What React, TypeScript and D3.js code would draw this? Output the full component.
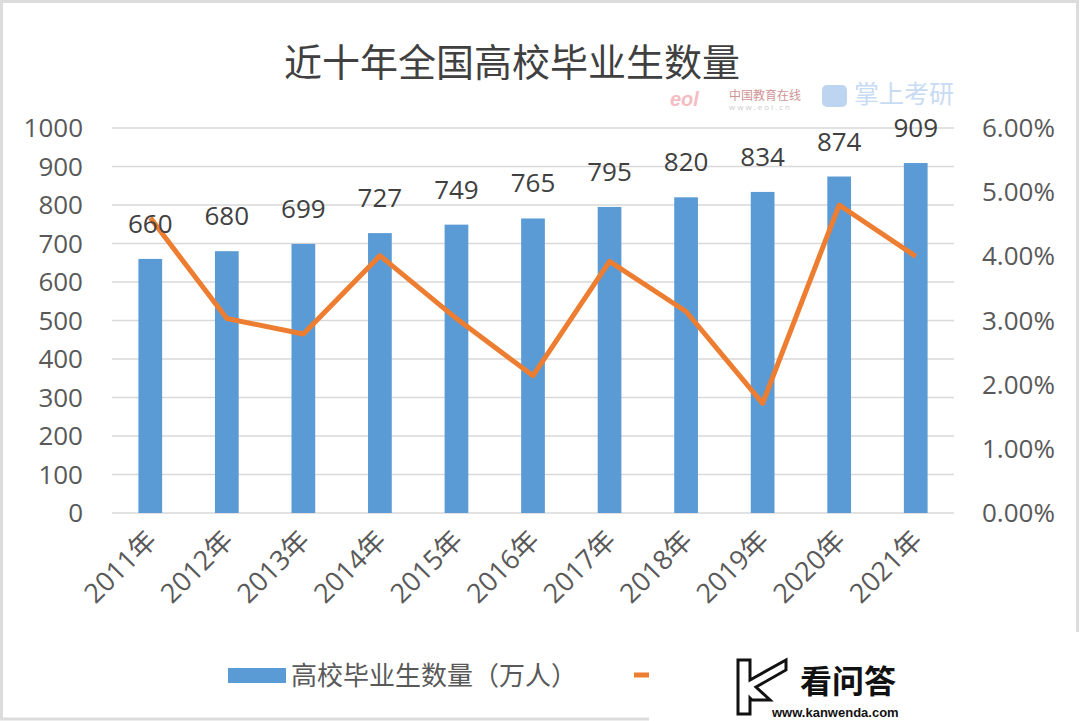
import React from 'react';
import * as d3 from 'd3';

const years = ['2011年', '2012年', '2013年', '2014年', '2015年', '2016年', '2017年', '2018年', '2019年', '2020年', '2021年'];
const graduates = [660, 680, 699, 727, 749, 765, 795, 820, 834, 874, 909];
const growth = [0.046, 0.0303, 0.0279, 0.0401, 0.0303, 0.0214, 0.0392, 0.0314, 0.0171, 0.048, 0.04];
const leftTicks = [0, 100, 200, 300, 400, 500, 600, 700, 800, 900, 1000];
const rightTicks = [0, 0.01, 0.02, 0.03, 0.04, 0.05, 0.06];

const W = 1080;
const H = 721;
const left = 112;
const right = 954;
const top = 128;
const bottom = 513;

const font = '"Open Sans", "Noto Sans CJK SC", sans-serif';
const cjk = '"Noto Sans CJK SC", sans-serif';

const App = () => {
  const x = d3.scaleBand<string>().domain(years).range([left, right]).paddingInner(0.69).paddingOuter(0.345);
  const y = d3.scaleLinear().domain([0, 1000]).range([bottom, top]);
  const y2 = d3.scaleLinear().domain([0, 0.06]).range([bottom, top]);
  const cx = (d: string) => (x(d) as number) + x.bandwidth() / 2;

  const line = d3
    .line<number>()
    .x((_, i) => cx(years[i]))
    .y((d) => y2(d));

  const pct = d3.format('.2%');

  return (
    <svg width={W} height={H} style={{ position: 'fixed', top: 0, left: 0, background: '#fff' }}>
      <rect x={1.5} y={1.5} width={W - 4} height={H - 3.5} fill="#fff" stroke="#dcdcdc" strokeWidth={3} />

      {/* title */}
      <text x={512} y={76} textAnchor="middle" fontFamily={cjk} fontSize={38} fill="#404040">
        近十年全国高校毕业生数量
      </text>

      {/* faint watermark top right */}
      <g opacity={0.75}>
        <text x={670} y={106} fontFamily="Liberation Sans, sans-serif" fontStyle="italic" fontWeight="bold" fontSize={20} fill="#f2a7b0">
          eol
        </text>
        <text x={729} y={100} fontFamily={cjk} fontSize={12} fill="#c07070">
          中国教育在线
        </text>
        <text x={729} y={110} fontFamily={font} fontSize={8} fill="#bbb" letterSpacing={2}>
          www.eol.cn
        </text>
        <rect x={822} y={85} width={25} height={22} rx={5} fill="#a9c8ee" />
        <text x={854} y={103} fontFamily={cjk} fontSize={25} fill="#b5cff0">
          掌上考研
        </text>
      </g>

      {/* gridlines */}
      {leftTicks.map((t) => (
        <line key={t} x1={left} x2={right} y1={y(t)} y2={y(t)} stroke="#d9d9d9" strokeWidth={1.5} />
      ))}

      {/* left axis */}
      {leftTicks.map((t) => (
        <text key={t} x={83} y={y(t)} dy="0.35em" textAnchor="end" fontFamily={font} fontSize={26} fill="#595959">
          {t}
        </text>
      ))}

      {/* right axis */}
      {rightTicks.map((t) => (
        <text key={t} x={982} y={y2(t)} dy="0.35em" fontFamily={font} fontSize={26} fill="#595959">
          {pct(t)}
        </text>
      ))}

      {/* bars */}
      {graduates.map((v, i) => (
        <rect key={years[i]} x={x(years[i])} y={y(v)} width={x.bandwidth()} height={bottom - y(v)} fill="#5b9bd5" />
      ))}

      {/* growth line */}
      <path d={line(growth) || ''} fill="none" stroke="#ed7d31" strokeWidth={5} strokeLinejoin="round" />

      {/* data labels */}
      {graduates.map((v, i) => (
        <text key={years[i]} x={cx(years[i])} y={y(v) - 26} textAnchor="middle" fontFamily={font} fontSize={26} fill="#404040">
          {v}
        </text>
      ))}

      {/* x labels */}
      {years.map((d) => (
        <text
          key={d}
          transform={`translate(${cx(d) + 8},${542}) rotate(-45)`}
          textAnchor="end"
          fontFamily={font}
          fontSize={27}
          fill="#595959"
        >
          {d}
        </text>
      ))}

      {/* legend */}
      <rect x={228} y={668} width={58} height={15} fill="#5b9bd5" />
      <text x={291} y={676} dy="0.35em" fontFamily={cjk} fontSize={26} fill="#595959">
        高校毕业生数量（万人）
      </text>
      <line x1={634} x2={670} y1={675} y2={675} stroke="#ed7d31" strokeWidth={5} />

      {/* bottom-right watermark patch */}
      <rect x={649} y={632} width={W - 649} height={H - 632} fill="#fff" />
      <g fill="none" stroke="#111" strokeWidth={3} strokeLinejoin="miter">
        <path d="M738 660 L750 660 L750 680 L786 660 L786 670 L756 687 L770 700 L752 700 L750 698 L750 714 L738 714 Z" />
      </g>
      <text x={800} y={693} fontFamily={cjk} fontWeight="bold" fontSize={32} fill="#111">
        看问答
      </text>
      <text x={772} y={717} fontFamily="Liberation Sans Narrow, Liberation Sans, sans-serif" fontWeight="bold" fontSize={13} fill="#111">
        www.kanwenda.com
      </text>
    </svg>
  );
};

export default App;
